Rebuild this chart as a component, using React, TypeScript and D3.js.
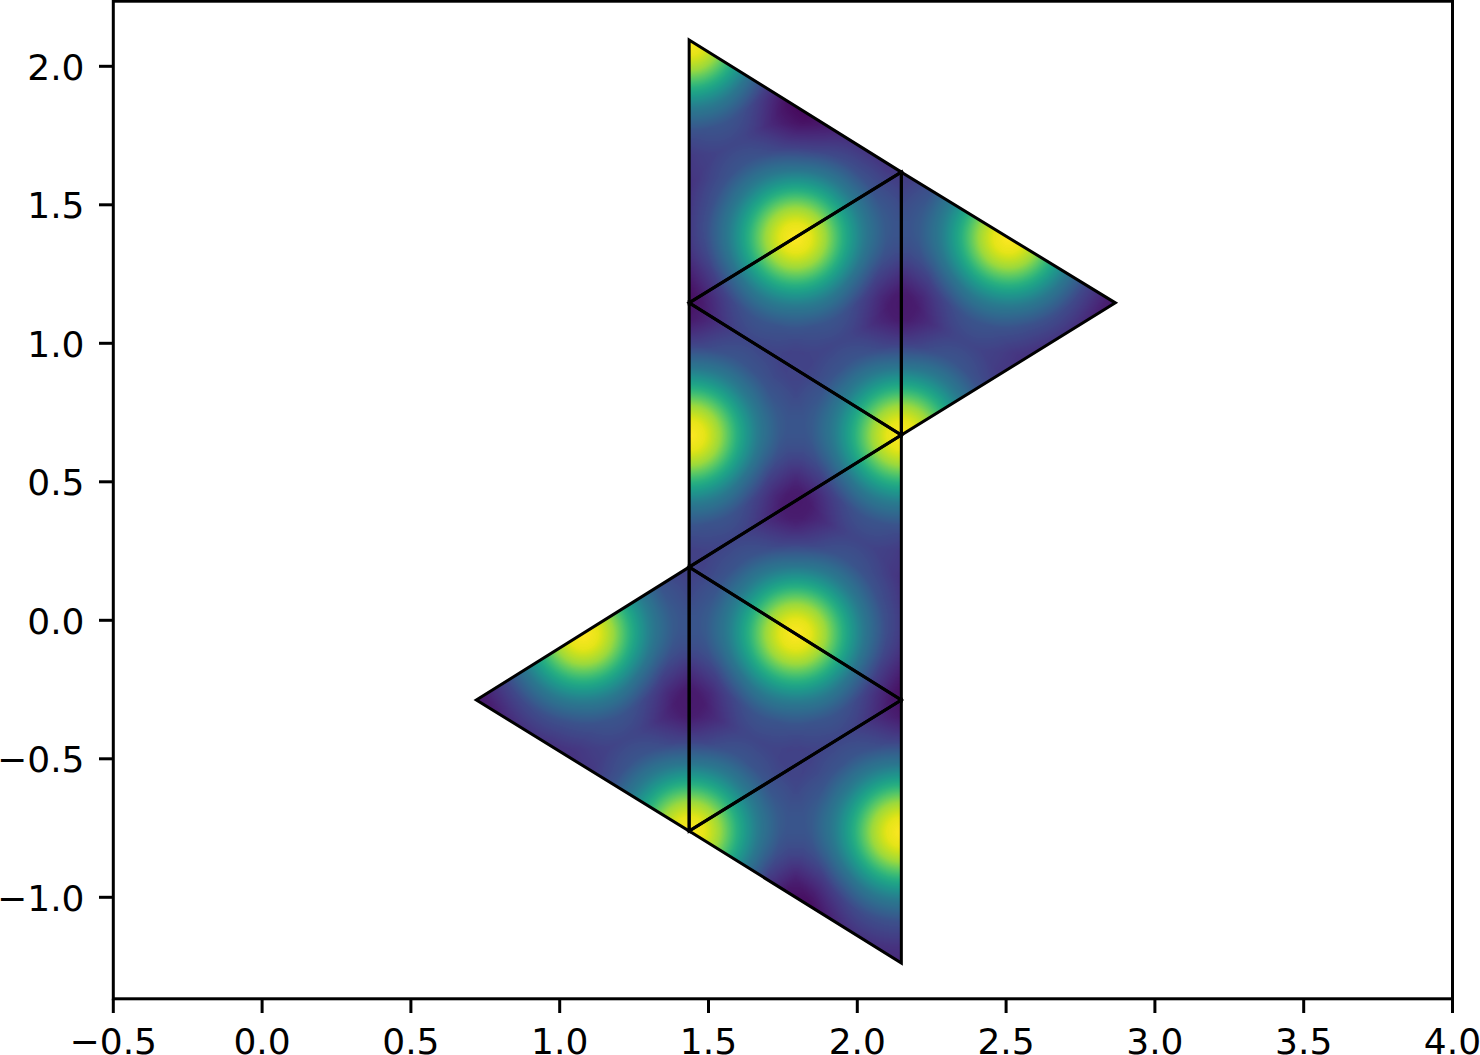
import React, { useEffect, useState } from "react";
import * as d3 from "d3";

const WIDTH = 1480;
const HEIGHT = 1055;

const xTicks = [-0.5, 0, 0.5, 1, 1.5, 2, 2.5, 3, 3.5, 4];
const yTicks = [-1, -0.5, 0, 0.5, 1, 1.5, 2];

// Mesh nodes: [x, y]
const nodes: Record<string, [number, number]> = {
  A: [1.435, 2.095],
  B: [2.148, 1.618],
  C: [1.435, 1.146],
  D: [2.148, 0.669],
  E: [2.867, 1.146],
  F: [1.435, 0.192],
  G: [2.148, -0.288],
  H: [0.72, -0.288],
  I: [1.435, -0.761],
  J: [2.148, -1.237],
};
const triangles = ["ABC", "BCD", "BDE", "CDF", "DFG", "FGI", "FHI", "GIJ"];

// Bright spots: two node names are an edge midpoint, one is a node.
const brightSpots = ["BC", "BE", "CF", "FG", "FH", "GJ", "A", "D", "I"];
// Dark spots: [location, depth]
const darkSpots: [string, number][] = [
  ["AB", 0.13], ["BD", 0.13], ["DF", 0.13], ["FI", 0.13], ["IJ", 0.13],
  ["C", 0.11], ["G", 0.11], ["E", 0.06], ["H", 0.06],
];
const baseLevel = 0.085;
// Radial profile of a bright spot
const profileDistance = [0, 15, 30, 47, 67, 90, 115, 140, 165];
const profileLevel = [0.915, 0.875, 0.765, 0.55, 0.33, 0.16, 0.06, 0.015, 0];
const darkRadius = 46;

const xScale = d3.scaleLinear().domain([-0.5, 4]).range([113.3, 1452.5]);
const yScale = d3.scaleLinear().domain([-1, 2]).range([897.3, 66.3]);
const profile = d3.scaleLinear().domain(profileDistance).range(profileLevel).clamp(true);

const locate = (key: string): [number, number] => {
  const pts = key.split("").map((k) => nodes[k]);
  return [
    xScale(d3.mean(pts, (p) => p[0]) as number),
    yScale(d3.mean(pts, (p) => p[1]) as number),
  ];
};

const triPath = (t: string) => {
  const p = d3.path();
  t.split("").forEach((k, i) => {
    const [x, y] = nodes[k];
    if (i === 0) p.moveTo(xScale(x), yScale(y));
    else p.lineTo(xScale(x), yScale(y));
  });
  p.closePath();
  return p.toString();
};

const fmt = (v: number) => (v < 0 ? "\u2212" : "") + Math.abs(v).toFixed(1);

function renderField(): string {
  const canvas = document.createElement("canvas");
  canvas.width = WIDTH;
  canvas.height = HEIGHT;
  const ctx = canvas.getContext("2d")!;
  const bright = brightSpots.map(locate);
  const dark = darkSpots.map(([k, d]) => [...locate(k), d] as [number, number, number]);
  const img = ctx.createImageData(WIDTH, HEIGHT);
  const lut = d3.range(1025).map((i) => d3.rgb(d3.interpolateViridis(i / 1024)));
  for (let py = 35; py < 970; py++) {
    for (let px = 470; px < 1120; px++) {
      let v = baseLevel;
      for (const [bx, by] of bright) {
        v += profile(Math.hypot(px - bx, py - by));
      }
      for (const [dx, dy, d] of dark) {
        const r2 = (px - dx) ** 2 + (py - dy) ** 2;
        v -= d * Math.exp(-r2 / (darkRadius * darkRadius));
      }
      const c = lut[Math.round(Math.max(0, Math.min(1, v)) * 1024)];
      const o = (py * WIDTH + px) * 4;
      img.data[o] = c.r;
      img.data[o + 1] = c.g;
      img.data[o + 2] = c.b;
      img.data[o + 3] = 255;
    }
  }
  ctx.putImageData(img, 0, 0);
  return canvas.toDataURL("image/png");
}

export default function App() {
  const [href, setHref] = useState("");
  useEffect(() => setHref(renderField()), []);
  const font = { fontFamily: "'DejaVu Sans'", fontSize: 36, fill: "#000" };
  return (
    <svg
      width={WIDTH}
      height={HEIGHT}
      style={{ position: "absolute", left: 0, top: 0, display: "block", background: "#fff" }}
    >
      <defs>
        <clipPath id="mesh">
          {triangles.map((t) => (
            <path key={t} d={triPath(t)} />
          ))}
        </clipPath>
      </defs>
      {href && <image href={href} x={0} y={0} width={WIDTH} height={HEIGHT} clipPath="url(#mesh)" />}
      {triangles.map((t) => (
        <path key={t} d={triPath(t)} fill="none" stroke="#000" strokeWidth={3} strokeLinejoin="miter" />
      ))}
      <rect x={113.3} y={1.2} width={1339.2} height={997.6} fill="none" stroke="#000" strokeWidth={3} />
      {xTicks.map((t) => (
        <g key={t}>
          <line x1={xScale(t)} x2={xScale(t)} y1={998.8} y2={1013} stroke="#000" strokeWidth={3} />
          <text x={xScale(t)} y={1054} textAnchor="middle" style={font}>{fmt(t)}</text>
        </g>
      ))}
      {yTicks.map((t) => (
        <g key={t}>
          <line x1={99} x2={113.3} y1={yScale(t)} y2={yScale(t)} stroke="#000" strokeWidth={3} />
          <text x={84.5} y={yScale(t) + 13.5} textAnchor="end" style={font}>{fmt(t)}</text>
        </g>
      ))}
    </svg>
  );
}
